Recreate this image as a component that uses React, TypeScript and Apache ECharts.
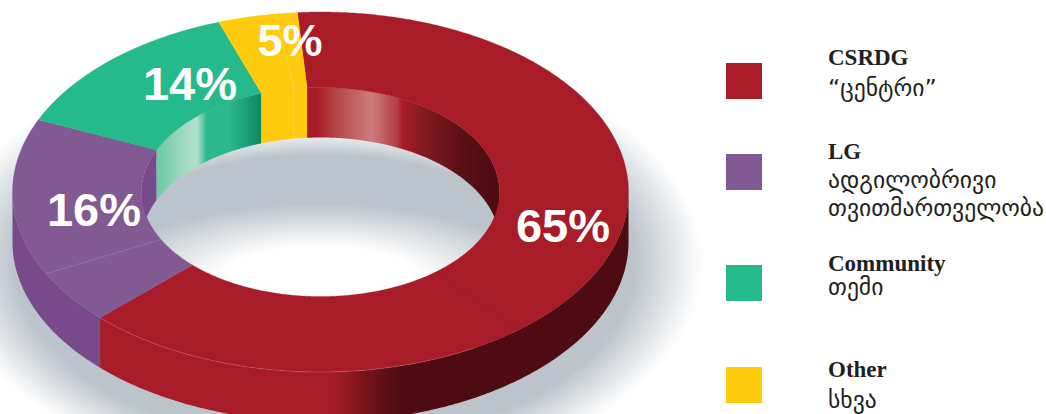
import React, { useEffect, useRef } from "react";
import * as echarts from "echarts";

// Printed labels of the slices.
const categories = ["CSRDG", "LG", "Community", "Other"];
const percentLabels = ["65%", "16%", "14%", "5%"];
// The angle each slice actually occupies in the picture (degrees), as measured.
const sweepDegrees = [230, 68, 47, 15];
const sliceColors = ["#a81c2a", "#825a93", "#25ba8c", "#ffcb0c"];
const legendLines = [
  ["CSRDG", "“ცენტრი”"],
  ["LG", "ადგილობრივი", "თვითმართველობა"],
  ["Community", "თემი"],
  ["Other", "სხვა"],
];

const START = -4.3;
const CX = 320.5;
const CY = 192;
const OUT = { rx: 308, ry: 180 };
const INN = { rx: 179, ry: 104.5 };
const DEPTH = 50;
const LABEL_AT = [
  [563, 225],
  [94, 209],
  [190, 83],
  [290, 40],
];
const LEGEND_Y = [63, 154, 265, 367];
const LEGEND_TEXT_Y = [[57, 88], [151, 180, 208], [263, 287], [369, 400]];
const SEAMS = [
  { a: 243, c: "rgba(255,255,255,0.2)" },
  { a: 351.5, c: "rgba(255,255,255,0.3)" },
  { a: 140, c: "rgba(90,0,10,0.1)" },
];

const bounds: number[] = [];
sweepDegrees.reduce((acc, v, i) => {
  bounds[i] = acc;
  return acc + v;
}, START);
bounds.push(START + 360);

const pt = (e: { rx: number; ry: number }, deg: number, dy = 0) => {
  const t = (deg * Math.PI) / 180;
  return [CX + e.rx * Math.sin(t), CY - e.ry * Math.cos(t) + dy];
};
const arc = (e: { rx: number; ry: number }, a: number, b: number, dy = 0) => {
  const out: number[][] = [];
  const n = Math.max(2, Math.ceil(Math.abs(b - a) * 2));
  for (let i = 0; i <= n; i++) out.push(pt(e, a + ((b - a) * i) / n, dy));
  return out;
};
const clipRanges = (a: number, b: number, ranges: number[][]) =>
  ranges
    .map(([l, h]) => [Math.max(a, l), Math.min(b, h)])
    .filter(([l, h]) => h > l);

const lin = (stops: [number, string][], x0: number, x1: number) =>
  new echarts.graphic.LinearGradient(
    x0, 0, x1, 0,
    stops.map(([offset, color]) => ({ offset, color })),
    true,
  );

const innerFills = [
  lin(
    [
      [0, "#a81c2a"], [0.06, "#a81c2a"], [0.17, "#b5494b"], [0.34, "#d07c7e"], [0.47, "#b04048"],
      [0.5, "#a81c2a"], [0.62, "#801a20"], [0.8, "#5a1016"], [1, "#4a0b11"],
    ],
    305, 500,
  ),
  "#784a8c",
  lin(
    [
      [0, "#6cc9a8"], [0.3, "#a9dcc6"], [0.38, "#b2dfcb"], [0.47, "#2bb98d"], [0.68, "#2bb98d"], [1, "#0d8560"],
    ],
    157, 263,
  ),
  "#ffcb0c",
];
const outerFills = [
  lin([[0, "#a81c2a"], [0.76, "#a81c2a"], [0.9, "#6a1219"], [0.99, "#4e0b12"], [1, "#4e0b12"]], 100, 405),
  "#784a8c",
  "#25ba8c",
  "#ffcb0c",
];

export default function App() {
  const ref = useRef<HTMLDivElement>(null);
  useEffect(() => {
    document.body.style.margin = "0";
    const chart = echarts.init(ref.current!, undefined, { renderer: "svg" });
    const data = categories.map((name, i) => ({ name, value: sweepDegrees[i] }));
    const legendGraphics: any[] = [];
    legendLines.forEach((lines, i) => {
      legendGraphics.push({
        type: "rect",
        shape: { x: 726, y: LEGEND_Y[i], width: 36, height: 36 },
        style: { fill: sliceColors[i] },
      });
      lines.forEach((text, j) => {
        legendGraphics.push({
          type: "text",
          x: 828,
          y: LEGEND_TEXT_Y[i][j],
          style: {
            text,
            fill: "#231f20",
            font: j === 0 ? 'bold 23px "Liberation Serif"' : '23.6px "DejaVu Sans"',
            verticalAlign: "middle",
          },
        });
      });
    });

    chart.setOption({
      animation: false,
      backgroundColor: "#fff",
      graphic: legendGraphics,
      series: [
        {
          type: "custom",
          coordinateSystem: "none",
          silent: true,
          data: [{ name: "shadow", value: 1 }],
          renderItem: () => ({
            type: "group",
            children: [
              {
                type: "ellipse",
                shape: { cx: 325, cy: 262, rx: 378, ry: 222 },
                style: {
                  fill: new echarts.graphic.RadialGradient(0.5, 0.5, 0.5, [
                    { offset: 0, color: "#bcc4cb" },
                    { offset: 0.82, color: "#bcc4cb" },
                    { offset: 1, color: "rgba(188,196,203,0)" },
                  ]),
                },
              },
              {
                type: "ellipse",
                shape: { cx: 320, cy: 282, rx: 225, ry: 78 },
                style: {
                  fill: new echarts.graphic.RadialGradient(0.5, 0.5, 0.5, [
                    { offset: 0, color: "#ffffff" },
                    { offset: 0.45, color: "#ffffff" },
                    { offset: 1, color: "rgba(255,255,255,0)" },
                  ]),
                },
              },
              {
                type: "ellipse",
                shape: { cx: 320, cy: 225, rx: 240, ry: 90 },
                style: {
                  fill: new echarts.graphic.RadialGradient(0.5, 0.5, 0.5, [
                    { offset: 0.78, color: "rgba(255,255,255,0)" },
                    { offset: 1, color: "rgba(255,255,255,0.75)" },
                  ]),
                },
              },
            ],
          }),
        },
        {
          type: "custom",
          name: "inner wall",
          coordinateSystem: "none",
          silent: true,
          data,
          renderItem: (p: any) => {
            const i = p.dataIndex;
            const parts = clipRanges(bounds[i], bounds[i + 1], [[-90, 90], [270, 450]]);
            return {
              type: "group",
              children: parts.map(([a, b]) => ({
                type: "polygon",
                shape: { points: [...arc(INN, a, b), ...arc(INN, b, a, DEPTH)] },
                style: { fill: innerFills[i] },
              })),
            };
          },
        },
        {
          type: "custom",
          name: "outer wall",
          coordinateSystem: "none",
          silent: true,
          data,
          renderItem: (p: any) => {
            const i = p.dataIndex;
            const parts = clipRanges(bounds[i], bounds[i + 1], [[90, 270]]);
            return {
              type: "group",
              children: parts.map(([a, b]) => ({
                type: "polygon",
                shape: { points: [...arc(OUT, a, b), ...arc(OUT, b, a, DEPTH)] },
                style: { fill: outerFills[i] },
              })),
            };
          },
        },
        {
          type: "custom",
          name: "top",
          coordinateSystem: "none",
          silent: true,
          data,
          renderItem: (p: any) => {
            const i = p.dataIndex;
            const a = bounds[i];
            const b = bounds[i + 1];
            return {
              type: "polygon",
              shape: { points: [...arc(OUT, a, b), ...arc(INN, b, a)] },
              style: { fill: sliceColors[i], stroke: sliceColors[i], lineWidth: 0.3 },
            };
          },
        },
        {
          type: "custom",
          name: "seams",
          coordinateSystem: "none",
          silent: true,
          data: SEAMS.map((s) => ({ name: "seam", value: s.a })),
          renderItem: (p: any) => {
            const s = SEAMS[p.dataIndex];
            const children: any[] = [
              {
                type: "polyline",
                shape: { points: [pt(OUT, s.a), pt(INN, s.a)] },
                style: { stroke: s.c, lineWidth: 0.7, fill: "none" },
              },
            ];
            if (p.dataIndex === 1) {
              children.push({
                type: "polyline",
                shape: { points: [pt(INN, s.a), pt(INN, s.a, DEPTH)] },
                style: { stroke: s.c, lineWidth: 0.7, fill: "none" },
              });
            }
            if (p.dataIndex === 0) {
              children.push({
                type: "polyline",
                shape: { points: arc(OUT, 150, 226) },
                style: { stroke: "rgba(255,255,255,0.25)", lineWidth: 0.6, fill: "none" },
              });
            }
            return { type: "group", children };
          },
        },
        {
          type: "custom",
          name: "labels",
          coordinateSystem: "none",
          silent: true,
          data,
          renderItem: (p: any) => {
            const i = p.dataIndex;
            return {
              type: "text",
              x: LABEL_AT[i][0],
              y: LABEL_AT[i][1],
              style: {
                text: percentLabels[i],
                fill: "#ffffff",
                font: `bold ${i === 3 ? 45 : 47}px "Liberation Sans"`,
                align: "center",
                verticalAlign: "middle",
              },
            };
          },
        },
      ],
    });
    return () => chart.dispose();
  }, []);
  return (
    <div
      ref={ref}
      style={{ position: "fixed", left: 0, top: 0, width: 1046, height: 414 }}
    />
  );
}
